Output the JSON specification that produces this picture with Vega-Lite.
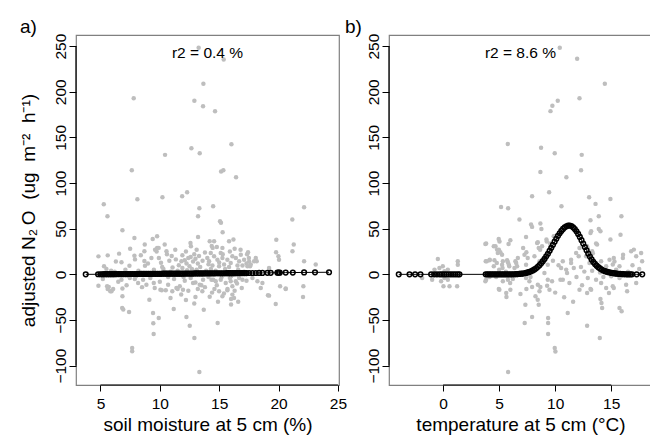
{
  "$schema": "https://vega.github.io/schema/vega-lite/v6.json",
  "background": "white",
  "padding": {"left": 18, "top": 17, "right": 0, "bottom": 0},
  "autosize": {"type": "pad"},
  "spacing": 50,
  "bounds": "flush",
  "config": {
    "font": "Liberation Sans",
    "view": {"stroke": "#808080", "strokeWidth": 1.2},
    "axis": {"domain": false, "grid": false, "tickColor": "black", "tickWidth": 1, "labelColor": "black", "labelFontSize": 15.5, "labelFont": "Liberation Sans", "titleFont": "Liberation Sans", "titleFontSize": 19, "titleFontWeight": "normal", "titleColor": "black", "labelFlush": false, "labelOverlap": false},
    "axisY": {"tickSize": 7, "labelAngle": 270, "labelAlign": "center", "labelBaseline": "alphabetic", "labelPadding": 4, "titlePadding": 15},
    "axisX": {"tickSize": 6, "labelPadding": 5, "titlePadding": 4},
    "title": {"fontSize": 19, "fontWeight": "normal", "font": "Liberation Sans", "color": "black", "anchor": "start", "frame": "group", "offset": -3.5}
  },
  "datasets": {
    "a_pts": [
      {"x":13.27,"y":248.2},{"x":15.38,"y":235.4},{"x":13.67,"y":208.8},{"x":7.8,"y":193},{"x":12.91,"y":190.1},{"x":13.64,"y":184.2},{"x":14.65,"y":178.7},{"x":16.03,"y":142.5},{"x":12.66,"y":138.2},{"x":13.36,"y":132.7},{"x":10.44,"y":130.9},{"x":7.64,"y":114},{"x":15.16,"y":112.6},{"x":15.35,"y":114},{"x":16.42,"y":106.4},{"x":12.3,"y":89.9},{"x":11.88,"y":85.5},{"x":10.22,"y":84.4},{"x":8.11,"y":82.2},{"x":14.49,"y":74.6},{"x":5.28,"y":76.8},{"x":22.15,"y":73.5},{"x":13.33,"y":72.4},{"x":5.59,"y":63.6},{"x":13.22,"y":63.6},
      {"x":15.07,"y":58.1},{"x":15.15,"y":56.5},{"x":15.29,"y":46.1},{"x":21.16,"y":60},{"x":6.85,"y":48.3},{"x":7.86,"y":39.9},{"x":9.77,"y":41.7},{"x":9.4,"y":38.8},{"x":10.41,"y":32.6},{"x":8.73,"y":32.6},{"x":8.7,"y":25.2},{"x":9.77,"y":29},{"x":9.73,"y":25},{"x":12.58,"y":34.4},{"x":12.62,"y":30.7},{"x":13.22,"y":41},{"x":14.2,"y":36.2},{"x":14.57,"y":36.2},{"x":14.37,"y":31},{"x":14.45,"y":29},{"x":14.8,"y":30},{"x":15.27,"y":29},{"x":15.83,"y":36.2},{"x":16.2,"y":38.1},{"x":4.83,"y":19.7},{"x":5.61,"y":20.8},{"x":6.57,"y":22.7},{"x":7.86,"y":20.5},{"x":21.28,"y":32.6},{"x":21.17,"y":25.3},{"x":19.81,"y":38},{"x":19.79,"y":24.2},{"x":19.99,"y":19.8},{"x":20.04,"y":16.1},{"x":17.43,"y":24.2},{"x":18.08,"y":18},{"x":18.16,"y":14.3},{"x":22.15,"y":14.3},{"x":23.13,"y":10.7},{"x":17.35,"y":22},{"x":17.5,"y":18},{"x":17.52,"y":14},{"x":17.6,"y":9},{"x":17.3,"y":12},
      {"x":6.77,"y":13.2},{"x":7.44,"y":9.4},{"x":7.91,"y":16.4},{"x":8.7,"y":14.6},{"x":8.75,"y":9.4},{"x":9.29,"y":18},{"x":9.92,"y":18},{"x":10.1,"y":12.8},{"x":10.56,"y":25.2},{"x":10.6,"y":22},{"x":10.8,"y":15},{"x":11.07,"y":7.5},{"x":11.35,"y":16.4},{"x":11.82,"y":14.3},{"x":12.1,"y":15.5},{"x":12.25,"y":12},{"x":12.5,"y":9},{"x":12.8,"y":14},{"x":13.0,"y":17},{"x":13.2,"y":12},{"x":13.4,"y":8},{"x":13.1,"y":5},{"x":12.7,"y":6},{"x":12.3,"y":4.5},{"x":11.9,"y":7},{"x":12.6,"y":19},{"x":9.6,"y":27},{"x":9.9,"y":29},{"x":10.3,"y":6},{"x":9.5,"y":5},{"x":8.2,"y":4},{"x":7.1,"y":5},{"x":6.2,"y":3},{"x":5.5,"y":6},{"x":11.5,"y":4},{"x":10.9,"y":3},
      {"x":14.29,"y":23.5},{"x":14.57,"y":19.8},{"x":14.85,"y":16.1},{"x":15.13,"y":23.5},{"x":15.27,"y":18},{"x":15.69,"y":16.1},{"x":15.97,"y":12.5},{"x":16.11,"y":19.8},{"x":16.4,"y":18},{"x":16.68,"y":14.3},{"x":16.82,"y":21.6},{"x":17.1,"y":16.1},{"x":14.15,"y":14.3},{"x":14.43,"y":9.6},{"x":14.99,"y":8.8},{"x":15.41,"y":10.7},{"x":15.83,"y":8.1},{"x":16.54,"y":9.6},{"x":16.96,"y":9.6},{"x":17.38,"y":8.8},{"x":17.66,"y":10.7},{"x":17.94,"y":14.3},{"x":19.2,"y":7},
      {"x":14.35,"y":-5.8},{"x":14.71,"y":-7.6},{"x":15.13,"y":-5.8},{"x":15.55,"y":-9.4},{"x":15.97,"y":-7.6},{"x":16.11,"y":-13.1},{"x":16.4,"y":-7.6},{"x":16.68,"y":-4},{"x":16.96,"y":-5.8},{"x":17.8,"y":-4},{"x":18.22,"y":-7.6},{"x":18.64,"y":-9.4},{"x":18.5,"y":-14.9},{"x":19.2,"y":-23.3},{"x":20.13,"y":-13.1},{"x":20.6,"y":-15.6},{"x":22.09,"y":-13.1},{"x":14.99,"y":-18.6},{"x":15.69,"y":-17.5},{"x":16.11,"y":-22.2},{"x":16.25,"y":-25.9},{"x":15.27,"y":-24.1},
      {"x":4.83,"y":-12.4},{"x":5.7,"y":-13.9},{"x":5.61,"y":-16},{"x":5.83,"y":-18.5},{"x":6.85,"y":-15.5},{"x":6.85,"y":-24.1},{"x":9.12,"y":-27.7},{"x":9.43,"y":-42.3},{"x":9.91,"y":-47.8},{"x":9.45,"y":-53.6},{"x":9.48,"y":-65.4},{"x":6.83,"y":-36.8},{"x":6.92,"y":-38.6},{"x":7.41,"y":-41.3},{"x":7.67,"y":-80.7},{"x":7.67,"y":-84.3},{"x":11.17,"y":-38},{"x":12.24,"y":-46.7},{"x":12.52,"y":-56.3},{"x":14.87,"y":-53.3},{"x":13.33,"y":-107},{"x":12.91,"y":-69.8},{"x":13.0,"y":-24.8},{"x":13.7,"y":-38.7},{"x":14.2,"y":-24.5},{"x":14.4,"y":-20},{"x":16.0,"y":-27},{"x":16.0,"y":-33},{"x":15.7,"y":-16},{"x":19.11,"y":-23},{"x":19.76,"y":-32.5},{"x":20.6,"y":-16},{"x":22.06,"y":-24.8},{"x":10.16,"y":-17.5},{"x":10.5,"y":-17.5},{"x":11.5,"y":-16},{"x":13.5,"y":-12},{"x":14.5,"y":-6},
      {"x":5.56,"y":-13.1},{"x":5.93,"y":-18.6},{"x":6.07,"y":-16},{"x":6.77,"y":-5.8},{"x":7.47,"y":-4},{"x":7.89,"y":-5},{"x":8.59,"y":-5.8},{"x":8.17,"y":-9.5},{"x":8.87,"y":-11.3},{"x":9.49,"y":-9.5},{"x":9.57,"y":-15},{"x":10.05,"y":-16.8},{"x":10.7,"y":-11.3},{"x":11.05,"y":-18.6},{"x":11.4,"y":-15},{"x":11.68,"y":-13.1},{"x":11.95,"y":-16.8},{"x":13.58,"y":-18.6},{"x":13.64,"y":-5.8},{"x":13.36,"y":-11.3},{"x":12.8,"y":-9.5},
      {"x":8.0,"y":-2},{"x":10.5,"y":2},{"x":12.0,"y":-3},{"x":14.0,"y":1},{"x":16.0,"y":-2},{"x":13.0,"y":3},
      {"x":11.6,"y":10},{"x":11.9,"y":21},{"x":12.2,"y":25},{"x":12.4,"y":18},{"x":12.9,"y":22},{"x":13.1,"y":27},{"x":13.3,"y":20},{"x":13.6,"y":15},{"x":13.8,"y":24},{"x":14.0,"y":18},{"x":14.1,"y":11},{"x":14.3,"y":6},{"x":13.9,"y":4},{"x":14.7,"y":4},{"x":15.0,"y":13},{"x":15.3,"y":22},{"x":15.5,"y":6},{"x":15.9,"y":25},{"x":16.3,"y":28},{"x":16.6,"y":5},{"x":16.8,"y":27},{"x":17.1,"y":3},{"x":11.3,"y":27},{"x":11.0,"y":20},{"x":10.2,"y":8},{"x":9.0,"y":12},{"x":8.4,"y":21},{"x":7.5,"y":28},{"x":6.3,"y":14},{"x":5.3,"y":9},{"x":5.9,"y":4},
      {"x":12.1,"y":-7},{"x":12.6,"y":-4},{"x":13.0,"y":-9},{"x":13.8,"y":-14},{"x":14.1,"y":-3},{"x":14.8,"y":-12},{"x":15.2,"y":-3},{"x":15.9,"y":-4},{"x":16.5,"y":-10},{"x":16.9,"y":-15},{"x":17.3,"y":-7},{"x":11.2,"y":-5},{"x":10.7,"y":-3},{"x":10.0,"y":-8},{"x":9.2,"y":-4},{"x":8.5,"y":-14},{"x":7.2,"y":-12},{"x":6.5,"y":-8},{"x":5.2,"y":-5},{"x":12.4,"y":-18},{"x":13.2,"y":-16},{"x":14.6,"y":-16},{"x":15.4,"y":-21},{"x":16.3,"y":-18},{"x":11.8,"y":-22},{"x":10.9,"y":-26},{"x":14.9,"y":-30},{"x":16.6,"y":-30},{"x":12.9,"y":-32},{"x":12.2,"y":-28}
    ],
    "a_fit": [
      {"x":3.76,"y":0.0},{"x":4.8,"y":0.1},{"x":5.0,"y":0.1},{"x":5.15,"y":0.1},{"x":5.3,"y":0.2},{"x":5.45,"y":0.2},{"x":5.6,"y":0.2},{"x":5.75,"y":0.2},{"x":5.9,"y":0.2},{"x":6.05,"y":0.2},{"x":6.2,"y":0.2},{"x":6.35,"y":0.3},{"x":6.5,"y":0.3},{"x":6.65,"y":0.3},{"x":6.8,"y":0.3},{"x":6.95,"y":0.3},{"x":7.1,"y":0.3},{"x":7.25,"y":0.3},{"x":7.4,"y":0.4},{"x":7.55,"y":0.4},{"x":7.7,"y":0.4},{"x":7.85,"y":0.4},{"x":8.0,"y":0.4},{"x":8.15,"y":0.4},{"x":8.3,"y":0.5},{"x":8.45,"y":0.5},{"x":8.6,"y":0.5},{"x":8.75,"y":0.5},{"x":8.9,"y":0.5},{"x":9.05,"y":0.5},{"x":9.2,"y":0.5},{"x":9.35,"y":0.6},{"x":9.5,"y":0.6},{"x":9.65,"y":0.6},{"x":9.8,"y":0.6},{"x":9.95,"y":0.6},{"x":10.1,"y":0.6},{"x":10.25,"y":0.7},{"x":10.4,"y":0.7},{"x":10.55,"y":0.7},{"x":10.7,"y":0.7},{"x":10.85,"y":0.7},{"x":11.0,"y":0.7},{"x":11.15,"y":0.8},{"x":11.3,"y":0.8},{"x":11.45,"y":0.8},{"x":11.6,"y":0.8},{"x":11.75,"y":0.8},{"x":11.9,"y":0.8},{"x":12.05,"y":0.9},{"x":12.2,"y":0.9},{"x":12.35,"y":0.9},{"x":12.5,"y":0.9},{"x":12.65,"y":0.9},{"x":12.8,"y":0.9},{"x":12.95,"y":1.0},{"x":13.1,"y":1.0},{"x":13.25,"y":1.0},{"x":13.4,"y":1.0},{"x":13.55,"y":1.0},{"x":13.7,"y":1.0},{"x":13.85,"y":1.1},{"x":14.0,"y":1.1},{"x":14.15,"y":1.1},{"x":14.3,"y":1.1},{"x":14.45,"y":1.1},{"x":14.6,"y":1.1},{"x":14.75,"y":1.2},{"x":14.9,"y":1.2},{"x":15.05,"y":1.2},{"x":15.2,"y":1.2},{"x":15.35,"y":1.2},{"x":15.5,"y":1.2},{"x":15.65,"y":1.3},{"x":15.8,"y":1.3},{"x":15.95,"y":1.3},{"x":16.1,"y":1.3},{"x":16.25,"y":1.3},{"x":16.4,"y":1.3},{"x":16.55,"y":1.4},{"x":16.7,"y":1.4},{"x":16.85,"y":1.4},{"x":17.0,"y":1.4},{"x":17.15,"y":1.4},{"x":17.3,"y":1.4},{"x":17.52,"y":1.5},{"x":17.8,"y":1.5},{"x":18.08,"y":1.5},{"x":18.36,"y":1.6},{"x":18.64,"y":1.6},{"x":19.06,"y":1.7},{"x":19.34,"y":1.7},{"x":19.9,"y":1.8},{"x":20.0,"y":1.8},{"x":20.1,"y":1.8},{"x":20.6,"y":1.9},{"x":21.2,"y":2.0},{"x":22.15,"y":2.1},{"x":23.07,"y":2.2},{"x":24.25,"y":2.3}
    ],
    "b_pts": [
      {"x":10.41,"y":248.2},{"x":11.96,"y":236.1},{"x":14.43,"y":208.7},{"x":12.17,"y":193},{"x":10.23,"y":190.1},{"x":9.75,"y":184.6},{"x":9.58,"y":178.8},{"x":5.77,"y":142.9},{"x":8.74,"y":138.6},{"x":9.96,"y":132.7},{"x":12.37,"y":130.9},{"x":8.68,"y":112.2},{"x":12.31,"y":114.1},{"x":11.0,"y":106.4},{"x":9.46,"y":89.9},{"x":7.94,"y":85.5},{"x":13.03,"y":84.5},{"x":13.6,"y":77.2},{"x":14.93,"y":82.6},{"x":5.17,"y":73.9},{"x":5.8,"y":72.4},{"x":10.56,"y":74.6},{"x":13.89,"y":63.6},{"x":15.91,"y":63.6},{"x":6.81,"y":60},{"x":13.15,"y":59.2},
      {"x":8.68,"y":55.6},{"x":8.77,"y":49.7},{"x":7.85,"y":54.5},{"x":4.96,"y":38.8},{"x":6.0,"y":37.3},{"x":3.77,"y":33.3},{"x":4.52,"y":30.7},{"x":4.81,"y":27.1},{"x":5.11,"y":24.2},{"x":7.4,"y":41},{"x":7.14,"y":28.9},{"x":5.71,"y":15.4},{"x":5.26,"y":21.6},{"x":6.45,"y":14.3},{"x":6.6,"y":8.8},{"x":3.8,"y":14.3},{"x":4.16,"y":16.1},{"x":4.52,"y":8.8},{"x":5.26,"y":10.6},{"x":5.86,"y":10.6},{"x":7.43,"y":24.2},{"x":9.87,"y":41.7},{"x":9.22,"y":38.1},{"x":8.39,"y":34.4},{"x":8.53,"y":28.9},{"x":8.83,"y":30.7},{"x":9.58,"y":25.3},{"x":13.15,"y":45.4},{"x":14.04,"y":47.2},{"x":14.93,"y":38.1},{"x":15.83,"y":43.5},{"x":13.74,"y":32.6},{"x":12.85,"y":30.7},{"x":13.3,"y":25.3},{"x":17.02,"y":27.1},{"x":17.67,"y":23.4},{"x":17.76,"y":14.3},{"x":16.06,"y":21.6},{"x":15.23,"y":17.9},{"x":11.42,"y":12.5},{"x":12.1,"y":19.8},{"x":11.66,"y":7},{"x":11.06,"y":1.5},{"x":10.47,"y":-5.8},{"x":9.72,"y":-7.6},{"x":13.21,"y":47.2},{"x":13.89,"y":49.8},{"x":7.94,"y":52},{"x":9.94,"y":41.7},{"x":9.25,"y":36},{"x":8.45,"y":35.2},{"x":8.66,"y":27},{"x":9.64,"y":28.9},{"x":9.55,"y":33.7},{"x":13.65,"y":33.7},{"x":12.91,"y":28},{"x":13.36,"y":23},{"x":16.78,"y":25.3},{"x":17.23,"y":19.8},{"x":16.04,"y":18},{"x":15.29,"y":14},{"x":12.17,"y":28.9},{"x":11.87,"y":23.5},{"x":11.42,"y":16.1},{"x":10.68,"y":14.3},{"x":10.53,"y":7},{"x":10.98,"y":5.2},{"x":7.26,"y":21.6},{"x":7.55,"y":18},{"x":8.15,"y":19.8},{"x":8.6,"y":14.3},{"x":9.04,"y":18},{"x":7.4,"y":10.6},{"x":9.34,"y":10.6},{"x":9.04,"y":1.5},
      {"x":3.84,"y":33.7},{"x":5.03,"y":36},{"x":4.67,"y":30.8},{"x":4.97,"y":27.1},{"x":4.88,"y":23.5},{"x":5.84,"y":33.3},{"x":4.14,"y":15.4},{"x":3.9,"y":14.3},{"x":4.58,"y":15.4},{"x":4.79,"y":12.5},{"x":5.33,"y":14.3},{"x":5.78,"y":13.2},{"x":6.67,"y":18},{"x":-0.47,"y":16.9},{"x":1.31,"y":14.3},{"x":1.31,"y":10.6},{"x":-0.77,"y":5.2},{"x":-0.33,"y":7},{"x":-0.03,"y":8.8},{"x":0.12,"y":3.3},{"x":0.42,"y":5.2},{"x":-0.98,"y":-5.8},{"x":-0.18,"y":-7.6},{"x":0.12,"y":-4},{"x":0.42,"y":-5.8},{"x":0.03,"y":-13.1},{"x":0.57,"y":-13.1},{"x":1.25,"y":-13.1},{"x":-1.87,"y":-4},{"x":3.84,"y":-5.8},{"x":4.14,"y":-3},{"x":4.73,"y":-3},{"x":5.33,"y":-7.6},{"x":5.78,"y":-5.8},{"x":6.22,"y":-5},{"x":4.97,"y":-16},{"x":5.63,"y":-20.4},{"x":5.98,"y":-9.5},{"x":5.0,"y":5},{"x":5.3,"y":7},{"x":5.6,"y":3},{"x":5.9,"y":8.8},{"x":6.37,"y":7},{"x":6.52,"y":12.5},
      {"x":3.77,"y":-7.6},{"x":5.02,"y":-16.8},{"x":5.65,"y":-24.8},{"x":6.0,"y":-16.8},{"x":6.9,"y":-21.5},{"x":7.43,"y":-16},{"x":7.94,"y":-13.9},{"x":7.34,"y":-33.2},{"x":7.28,"y":-53.3},{"x":7.94,"y":-46.8},{"x":8.24,"y":-24.1},{"x":8.44,"y":-27.7},{"x":8.53,"y":-33.2},{"x":8.68,"y":-13.9},{"x":9.28,"y":-12.4},{"x":9.37,"y":-47.8},{"x":9.37,"y":-53.3},{"x":9.37,"y":-65.4},{"x":9.96,"y":-80.7},{"x":10.02,"y":-84.4},{"x":5.8,"y":-107},{"x":11.12,"y":-42.4},{"x":12.85,"y":-56.2},{"x":13.15,"y":-16},{"x":12.85,"y":-20.4},{"x":13.98,"y":-69.8},{"x":14.04,"y":-27},{"x":14.19,"y":-36.9},{"x":14.13,"y":-31.4},{"x":15.74,"y":-36.9},{"x":15.93,"y":-40.5},{"x":16.42,"y":-18.6},{"x":15.23,"y":-15},{"x":14.8,"y":-20.4},
      {"x":12.76,"y":19.8},{"x":13.06,"y":12.5},{"x":13.65,"y":8.8},{"x":14.1,"y":14.3},{"x":14.55,"y":8.8},{"x":14.85,"y":16.1},{"x":15.14,"y":10.7},{"x":15.44,"y":5.2},{"x":15.74,"y":8.8},{"x":16.04,"y":1.5},{"x":12.3,"y":8},{"x":12.6,"y":3},{"x":13.3,"y":4},{"x":14.0,"y":2},{"x":14.3,"y":-3},{"x":15.0,"y":-2},{"x":16.5,"y":3},{"x":16.9,"y":10},{"x":17.5,"y":6},
      {"x":7.4,"y":-4},{"x":7.7,"y":-7.6},{"x":8.45,"y":-11.3},{"x":9.34,"y":-5.8},{"x":8.6,"y":-18.6},{"x":9.49,"y":-16.8},{"x":10.68,"y":-5.8},{"x":11.27,"y":-9.4},{"x":12.17,"y":-16.8},{"x":12.91,"y":-4},{"x":13.65,"y":-5.8},{"x":14.1,"y":-9.4},{"x":14.55,"y":-14.9},{"x":15.14,"y":-13.1},{"x":15.74,"y":-4},{"x":16.33,"y":-11.3},{"x":17.23,"y":-9.4},{"x":13.21,"y":-16.8},{"x":10.0,"y":-20},{"x":10.8,"y":-25},{"x":11.6,"y":-30},{"x":12.4,"y":-12},{"x":11.9,"y":-3},{"x":10.3,"y":10},{"x":9.8,"y":15},{"x":8.2,"y":5},{"x":7.8,"y":-3}
    ],
    "b_fit": [
      {"x":-3.96,"y":0},{"x":-3.0,"y":0},{"x":-2.5,"y":0},{"x":-2.02,"y":0},{"x":-1.07,"y":0},{"x":-0.8,"y":0},{"x":-0.55,"y":0},{"x":-0.3,"y":0},{"x":-0.1,"y":0},{"x":0.1,"y":0},{"x":0.3,"y":0},{"x":0.5,"y":0},{"x":0.7,"y":0},{"x":0.9,"y":0},{"x":1.1,"y":0},{"x":1.3,"y":0},{"x":1.46,"y":0},
      {"x":3.8,"y":0},{"x":3.95,"y":0},{"x":4.1,"y":0},{"x":4.25,"y":0},{"x":4.4,"y":0},{"x":4.55,"y":0},{"x":4.7,"y":0},{"x":4.85,"y":0},{"x":5.0,"y":0},{"x":5.15,"y":0},{"x":5.3,"y":0},{"x":5.45,"y":0},{"x":5.6,"y":0},{"x":5.75,"y":0},{"x":5.9,"y":0},{"x":6.05,"y":0},{"x":6.2,"y":0.1},{"x":6.35,"y":0.1},{"x":6.5,"y":0.2},{"x":6.65,"y":0.3},{"x":6.8,"y":0.5},{"x":6.95,"y":0.7},{"x":7.1,"y":0.9},{"x":7.25,"y":1.2},{"x":7.4,"y":1.6},{"x":7.55,"y":2.1},{"x":7.7,"y":2.7},{"x":7.85,"y":3.4},{"x":8.0,"y":4.3},{"x":8.15,"y":5.4},{"x":8.3,"y":6.7},{"x":8.45,"y":8.3},{"x":8.6,"y":10.1},{"x":8.75,"y":12.1},{"x":8.9,"y":14.4},{"x":9.05,"y":16.9},{"x":9.2,"y":19.7},{"x":9.35,"y":22.6},{"x":9.5,"y":25.8},{"x":9.65,"y":29.1},{"x":9.8,"y":32.4},{"x":9.95,"y":35.8},{"x":10.1,"y":39.0},{"x":10.25,"y":42.2},{"x":10.4,"y":45.0},{"x":10.55,"y":47.6},{"x":10.7,"y":49.8},{"x":10.85,"y":51.5},{"x":11.0,"y":52.7},{"x":11.15,"y":53.4},{"x":11.3,"y":53.5},{"x":11.45,"y":52.9},{"x":11.6,"y":51.6},{"x":11.75,"y":49.7},{"x":11.9,"y":47.2},{"x":12.05,"y":44.3},{"x":12.2,"y":41.0},{"x":12.35,"y":37.4},{"x":12.5,"y":33.7},{"x":12.65,"y":30.0},{"x":12.8,"y":26.3},{"x":12.95,"y":22.8},{"x":13.1,"y":19.5},{"x":13.25,"y":16.4},{"x":13.4,"y":13.6},{"x":13.55,"y":11.4},{"x":13.7,"y":9.5},{"x":13.85,"y":7.9},{"x":14.0,"y":6.5},{"x":14.15,"y":5.3},{"x":14.3,"y":4.2},{"x":14.45,"y":3.5},{"x":14.6,"y":2.9},{"x":14.75,"y":2.4},{"x":14.9,"y":2.0},{"x":15.05,"y":1.6},{"x":15.2,"y":1.3},{"x":15.35,"y":1.0},{"x":15.5,"y":0.8},{"x":15.65,"y":0.6},{"x":15.8,"y":0.5},{"x":15.95,"y":0.3},{"x":16.1,"y":0.2},{"x":16.25,"y":0.1},{"x":16.4,"y":0},{"x":16.55,"y":0},{"x":16.7,"y":0},{"x":16.85,"y":0},{"x":17.27,"y":0},{"x":17.77,"y":0}
    ]
  },
  "hconcat": [
    {
      "width": 263,
      "height": 350,
      "title": {"text": "a)", "dx": -56},
      "layer": [
        {
          "data": {"name": "a_pts"},
          "mark": {"type": "circle", "color": "#bebebe", "opacity": 1, "size": 20},
          "encoding": {
            "x": {"field": "x", "type": "quantitative", "scale": {"domain": [2.94, 25.09], "nice": false, "zero": false}, "axis": {"values": [5, 10, 15, 20, 25], "title": "soil moisture at 5 cm (%)"}},
            "y": {"field": "y", "type": "quantitative", "scale": {"domain": [-121.2, 262.2], "nice": false, "zero": false}, "axis": {"values": [-100, -50, 0, 50, 100, 150, 200, 250], "title": "adjusted N\u2082\u2009O\u00a0 (ug\u00a0 m\u207b\u00b2\u00a0 h\u207b\u00b9)"}}
          }
        },
        {
          "data": {"name": "a_fit"},
          "mark": {"type": "line", "color": "black", "strokeWidth": 1},
          "encoding": {"x": {"field": "x", "type": "quantitative"}, "y": {"field": "y", "type": "quantitative"}}
        },
        {
          "data": {"name": "a_fit"},
          "mark": {"type": "point", "shape": "circle", "filled": false, "color": "black", "strokeWidth": 1.5, "size": 22, "opacity": 1},
          "encoding": {"x": {"field": "x", "type": "quantitative"}, "y": {"field": "y", "type": "quantitative"}}
        },
        {
          "data": {"values": [{}]},
          "mark": {"type": "text", "text": "r2 = 0.4 %", "fontSize": 15.5, "font": "Liberation Sans", "baseline": "middle", "color": "black"},
          "encoding": {"x": {"datum": 14.015, "type": "quantitative"}, "y": {"datum": 242, "type": "quantitative"}}
        },
        {
          "data": {"values": [{}]},
          "mark": {"type": "rule", "color": "black", "strokeWidth": 1.2},
          "encoding": {"x": {"datum": 5, "type": "quantitative"}, "x2": {"datum": 25}, "y": {"datum": -121.2, "type": "quantitative"}}
        },
        {
          "data": {"values": [{}]},
          "mark": {"type": "rule", "color": "black", "strokeWidth": 1.2},
          "encoding": {"x": {"datum": 2.94, "type": "quantitative"}, "y": {"datum": -100, "type": "quantitative"}, "y2": {"datum": 250}}
        }
      ]
    },
    {
      "width": 263,
      "height": 350,
      "title": {"text": "b)", "dx": -44},
      "layer": [
        {
          "data": {"name": "b_pts"},
          "mark": {"type": "circle", "color": "#bebebe", "opacity": 1, "size": 20},
          "encoding": {
            "x": {"field": "x", "type": "quantitative", "scale": {"domain": [-4.83, 18.64], "nice": false, "zero": false}, "axis": {"values": [0, 5, 10, 15], "title": "temperature at 5 cm (°C)"}},
            "y": {"field": "y", "type": "quantitative", "scale": {"domain": [-121.2, 262.2], "nice": false, "zero": false}, "axis": {"values": [-100, -50, 0, 50, 100, 150, 200, 250], "title": null}}
          }
        },
        {
          "data": {"name": "b_fit"},
          "mark": {"type": "line", "color": "black", "strokeWidth": 1},
          "encoding": {"x": {"field": "x", "type": "quantitative"}, "y": {"field": "y", "type": "quantitative"}}
        },
        {
          "data": {"name": "b_fit"},
          "mark": {"type": "point", "shape": "circle", "filled": false, "color": "black", "strokeWidth": 1.5, "size": 22, "opacity": 1},
          "encoding": {"x": {"field": "x", "type": "quantitative"}, "y": {"field": "y", "type": "quantitative"}}
        },
        {
          "data": {"values": [{}]},
          "mark": {"type": "text", "text": "r2 = 8.6 %", "fontSize": 15.5, "font": "Liberation Sans", "baseline": "middle", "color": "black"},
          "encoding": {"x": {"datum": 6.9, "type": "quantitative"}, "y": {"datum": 242, "type": "quantitative"}}
        },
        {
          "data": {"values": [{}]},
          "mark": {"type": "rule", "color": "black", "strokeWidth": 1.2},
          "encoding": {"x": {"datum": 0, "type": "quantitative"}, "x2": {"datum": 15}, "y": {"datum": -121.2, "type": "quantitative"}}
        },
        {
          "data": {"values": [{}]},
          "mark": {"type": "rule", "color": "black", "strokeWidth": 1.2},
          "encoding": {"x": {"datum": -4.83, "type": "quantitative"}, "y": {"datum": -100, "type": "quantitative"}, "y2": {"datum": 250}}
        }
      ]
    }
  ]
}
